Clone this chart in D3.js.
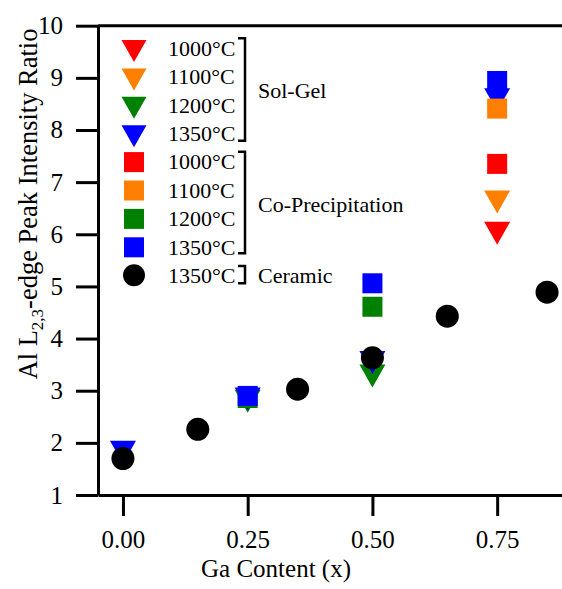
<!DOCTYPE html>
<html>
<head>
<meta charset="utf-8">
<script src="https://cdn.jsdelivr.net/npm/d3@7"></script>
<style>
  html, body { margin: 0; padding: 0; background: #fff; }
  svg { display: block; }
  text { font-family: "Liberation Serif", "Times New Roman", serif; fill: #000; }
</style>
</head>
<body>
<svg id="chart" width="562" height="589"></svg>
<script>
// Al L2,3-edge peak intensity ratio vs Ga content, by synthesis route and temperature
const temps = ["1000°C", "1100°C", "1200°C", "1350°C"];
const tempColors = ["#ff0000", "#ff8000", "#008000", "#0000ff"];

// Sol-Gel (triangles), one array of [x, ratio] per temperature
const solGel1000 = [[0.75, 6.02]];
const solGel1100 = [[0.75, 6.62]];
const solGel1200 = [[0.25, 2.80], [0.50, 3.28]];
const solGel1350 = [[0.00, 1.82], [0.25, 2.84], [0.50, 3.54], [0.75, 8.58]];

// Co-Precipitation (squares)
const coPrec1000 = [[0.75, 7.35]];
const coPrec1100 = [[0.75, 8.41]];
const coPrec1200 = [[0.25, 2.86], [0.50, 4.61]];
const coPrec1350 = [[0.25, 2.90], [0.50, 5.06], [0.75, 8.94]];

// Ceramic (circles), 1350°C
const ceramic1350 = [[0.00, 1.70], [0.15, 2.26], [0.35, 3.03], [0.50, 3.63], [0.65, 4.43], [0.85, 4.89]];

const xTicks = [0, 0.25, 0.5, 0.75];
const yTicks = [1, 2, 3, 4, 5, 6, 7, 8, 9, 10];
const groupNames = ["Sol-Gel", "Co-Precipitation", "Ceramic"];

const svg = d3.select("#chart");
const W = 562;

const x = d3.scaleLinear().domain([-0.05, 0.9]).range([98, 572]);
const y = d3.scaleLinear().domain([1, 10]).range([495, 25.7]);

// Marker shapes (centred on their bounding box)
const triW = 26, triH = 23, sq = 20, cr = 11.5;
function triPath(cx, cy, w = triW, h = triH) {
  return `M${cx - w / 2},${cy - h / 2}L${cx + w / 2},${cy - h / 2}L${cx},${cy + h / 2}Z`;
}

// Axes
const axisW = 3;
const yAxis = d3.axisLeft(y).tickValues(yTicks).tickFormat(d3.format("d"))
  .tickSize(22).tickSizeOuter(0).tickPadding(13);
const xAxis = d3.axisBottom(x).tickValues(xTicks).tickFormat(d3.format(".2f"))
  .tickSize(21).tickSizeOuter(0).tickPadding(14);

const gy = svg.append("g").attr("transform", `translate(${x(-0.05)},0)`).call(yAxis);
const gx = svg.append("g").attr("transform", `translate(0,${y(1)})`).call(xAxis);

[gx, gy].forEach(g => {
  g.selectAll("path.domain").attr("stroke", "#000").attr("stroke-width", axisW);
  g.selectAll(".tick line").attr("stroke", "#000").attr("stroke-width", axisW);
  g.selectAll(".tick text").attr("font-family", "Liberation Serif").attr("font-size", 25).attr("fill", "#000");
});

// top frame line
svg.append("line")
  .attr("x1", x(-0.05)).attr("x2", W + 5)
  .attr("y1", y(10)).attr("y2", y(10))
  .attr("stroke", "#000").attr("stroke-width", axisW);

// Axis titles
svg.append("text")
  .attr("x", 276).attr("y", 577)
  .attr("text-anchor", "middle").attr("font-size", 25)
  .text("Ga Content (x)");

const yt = svg.append("text")
  .attr("transform", "translate(37,204) rotate(-90)")
  .attr("text-anchor", "middle").attr("font-size", 26.5);
yt.append("tspan").text("Al L");
yt.append("tspan").attr("font-size", 17).attr("dy", 6).text("2,3");
yt.append("tspan").attr("dy", -6).text("-edge Peak Intensity Ratio");

// Data marks: triangles, then squares, then circles
const plot = svg.append("g");
const solGel = [solGel1000, solGel1100, solGel1200, solGel1350];
const coPrec = [coPrec1000, coPrec1100, coPrec1200, coPrec1350];

solGel.forEach((pts, i) => {
  plot.selectAll(null).data(pts).join("path")
    .attr("d", d => triPath(x(d[0]), y(d[1])))
    .attr("fill", tempColors[i]);
});
coPrec.forEach((pts, i) => {
  plot.selectAll(null).data(pts).join("rect")
    .attr("x", d => x(d[0]) - sq / 2).attr("y", d => y(d[1]) - sq / 2)
    .attr("width", sq).attr("height", sq)
    .attr("fill", tempColors[i]);
});
plot.selectAll(null).data(ceramic1350).join("circle")
  .attr("cx", d => x(d[0])).attr("cy", d => y(d[1])).attr("r", cr)
  .attr("fill", "#000");

// Legend
const lg = svg.append("g");
const rowY = i => 48 + i * 28.4;
const mx = 134, tx = 168;
const legendRows = [];
temps.forEach((t, i) => legendRows.push({ shape: "tri", color: tempColors[i], label: t }));
temps.forEach((t, i) => legendRows.push({ shape: "sq", color: tempColors[i], label: t }));
legendRows.push({ shape: "circle", color: "#000", label: "1350°C" });

legendRows.forEach((r, i) => {
  const cy = rowY(i);
  if (r.shape === "tri") {
    lg.append("path").attr("d", triPath(mx, cy + 3, 25, 22)).attr("fill", r.color);
  } else if (r.shape === "sq") {
    lg.append("rect").attr("x", mx - sq / 2).attr("y", cy - sq / 2 + 0.5)
      .attr("width", sq).attr("height", sq).attr("fill", r.color);
  } else {
    lg.append("circle").attr("cx", mx).attr("cy", cy).attr("r", 11).attr("fill", r.color);
  }
  lg.append("text").attr("x", tx).attr("y", cy).attr("dy", "0.35em")
    .attr("font-size", 22).text(r.label);
});

// Brackets grouping legend rows
const bx = 245, stub = 7;
const brackets = [
  { top: 38.3, bottom: 140.7, label: groupNames[0], ly: (rowY(0) + rowY(3)) / 2 },
  { top: 151.7, bottom: 253.3, label: groupNames[1], ly: (rowY(4) + rowY(7)) / 2 },
  { top: 266, bottom: 283.3, label: groupNames[2], ly: rowY(8) }
];
brackets.forEach(b => {
  lg.append("path")
    .attr("d", `M${bx - stub},${b.top}H${bx}V${b.bottom}H${bx - stub}`)
    .attr("fill", "none").attr("stroke", "#000").attr("stroke-width", 2.5);
  lg.append("text").attr("x", 258).attr("y", b.ly).attr("dy", "0.35em")
    .attr("font-size", 22).text(b.label);
});
</script>
</body>
</html>
